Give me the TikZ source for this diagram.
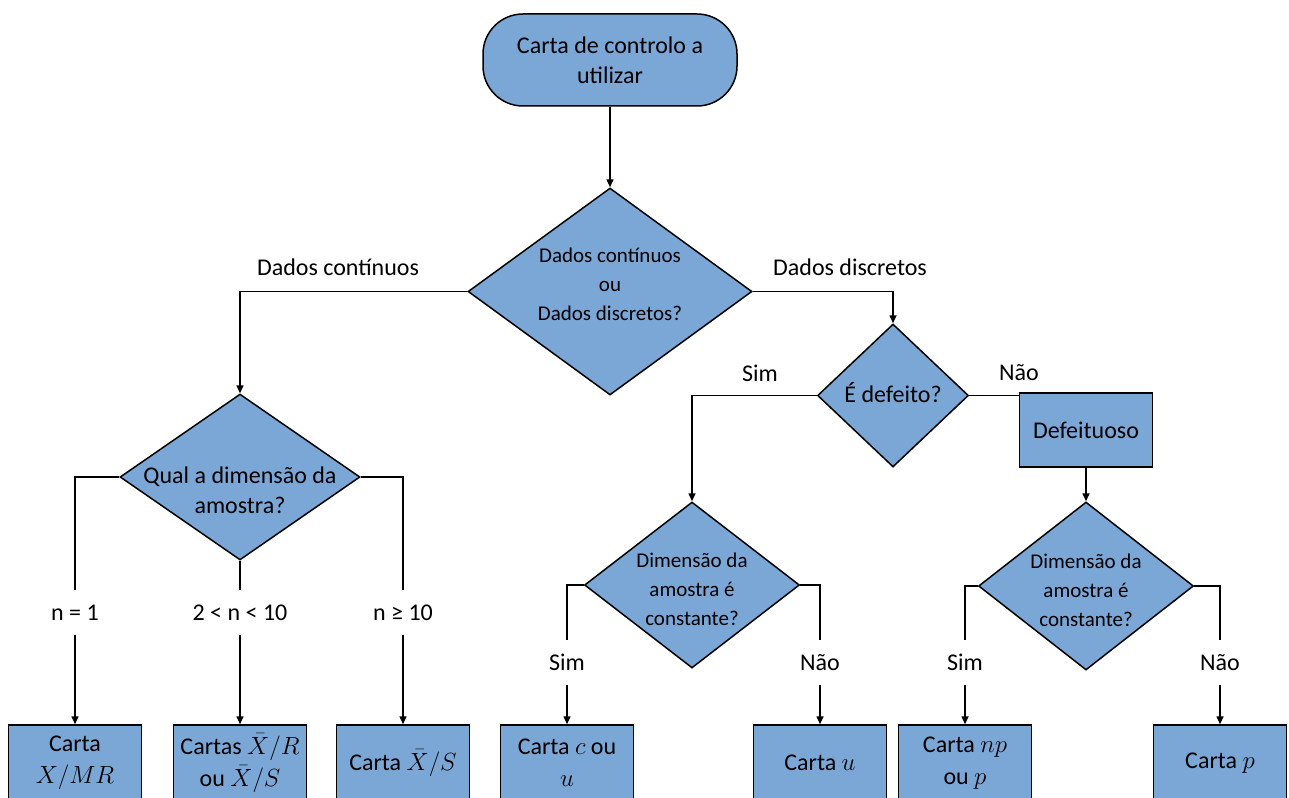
\documentclass[tikz,border=0pt]{standalone}
\usepackage{fontspec}
\setmainfont{Carlito}
\usetikzlibrary{shapes.geometric,arrows.meta}
\definecolor{boxblue}{HTML}{7BA7D7}
\begin{document}
\begin{tikzpicture}[x=1pt,y=-1pt,
  every node/.style={font=\fontsize{24}{30}\selectfont, text=black},
  shapebox/.style={draw=black, fill=boxblue, line width=1.5pt},
  terminal/.style={shapebox, rectangle, rounded corners=40pt, minimum width=254pt,
                   minimum height=92pt, align=center, inner sep=0pt},
  decision/.style={shapebox, diamond, inner sep=0pt},
  chart/.style={shapebox, rectangle, minimum width=133pt, minimum height=76pt,
                align=center, inner sep=0pt, font=\fontsize{24}{32}\selectfont},
  qtext/.style={align=center, inner sep=0pt},
  small/.style={font=\fontsize{21}{29}\selectfont},
  branch/.style={inner sep=0pt, minimum height=45pt},
  link/.style={draw=black, line width=1.5pt},
  arrow/.style={link, -{Triangle[length=8pt,width=7pt]}}
]
\useasboundingbox (0,0) rectangle (1289,797);
\clip (0,0) rectangle (1289,797);

% start
\node[terminal] (start) at (610,60) {Carta de controlo a\\utilizar};

% first decision
\node[decision, minimum width=284pt, minimum height=207pt] (d1) at (610,291.5) {};
\node[qtext, small] (d1t) at (610,284) {Dados contínuos\\ou\\Dados discretos?};

% continuous branch
\node[decision, minimum width=240pt, minimum height=166pt] (d2) at (240,477) {};
\node[qtext] (d2t) at (240,490) {Qual a dimensão da\\amostra?};

% discrete branch
\node[decision, minimum width=151pt, minimum height=143pt] (ed) at (893,395.5) {};
\node[qtext] (edt) at (893,393) {É defeito?};
\node[shapebox, rectangle, minimum width=133pt, minimum height=74pt, inner sep=0pt]
  (def) at (1086,430) {Defeituoso};

\node[decision, minimum width=215pt, minimum height=166pt] (d3) at (692,585) {};
\node[qtext, small] (d3t) at (692,589) {Dimensão da\\amostra é\\constante?};
\node[decision, minimum width=215pt, minimum height=168pt] (d4) at (1086,586) {};
\node[qtext, small] (d4t) at (1086,590) {Dimensão da\\amostra é\\constante?};

% branch labels
\node (lcont) at (338,267) {Dados contínuos};
\node (ldisc) at (850,267) {Dados discretos};
\node (lsim) at (760,373) {Sim};
\node (lnao) at (1019,373) {Não};

\node[branch] (n1) at (75,612.5) {n = 1};
\node[branch] (n2) at (240,612.5) {2 < n < 10};
\node[branch] (n3) at (403,612.5) {n ≥ 10};
\node[branch] (s1) at (567,662.5) {Sim};
\node[branch] (s2) at (820,662.5) {Não};
\node[branch] (s3) at (965,662.5) {Sim};
\node[branch] (s4) at (1220,662.5) {Não};

% charts
\node[chart] (b1) at (75,763) {Carta\\$X/MR$};
\node[chart] (b2) at (240,763) {Cartas $\bar{X}/R$\\ou $\bar{X}/S$};
\node[chart] (b3) at (403,763) {Carta $\bar{X}/S$};
\node[chart] (b4) at (567,763) {Carta $c$ ou\\$u$};
\node[chart] (b5) at (820,763) {Carta $u$};
\node[chart] (b6) at (965,763) {Carta $np$\\ou $p$};
\node[chart] (b7) at (1220,763) {Carta $p$};

% connectors
\draw[arrow] (start.south) -- (d1.north);
\draw[arrow] (d1.west) -| (d2.north);
\draw[arrow] (d1.east) -| (ed.north);
\draw[arrow] (ed.west) -| (d3.north);
\draw[link] (ed.east) -- (ed.east -| def.west);
\draw[arrow] (def.south) -- (d4.north);

\draw[link] (d2.west) -| (n1.north);
\draw[arrow] (n1.south) -- (b1.north);
\draw[link] (d2.south) -- (n2.north);
\draw[arrow] (n2.south) -- (b2.north);
\draw[link] (d2.east) -| (n3.north);
\draw[arrow] (n3.south) -- (b3.north);

\draw[link] (d3.west) -| (s1.north);
\draw[arrow] (s1.south) -- (b4.north);
\draw[link] (d3.east) -| (s2.north);
\draw[arrow] (s2.south) -- (b5.north);

\draw[link] (d4.west) -| (s3.north);
\draw[arrow] (s3.south) -- (b6.north);
\draw[link] (d4.east) -| (s4.north);
\draw[arrow] (s4.south) -- (b7.north);
\end{tikzpicture}
\end{document}
